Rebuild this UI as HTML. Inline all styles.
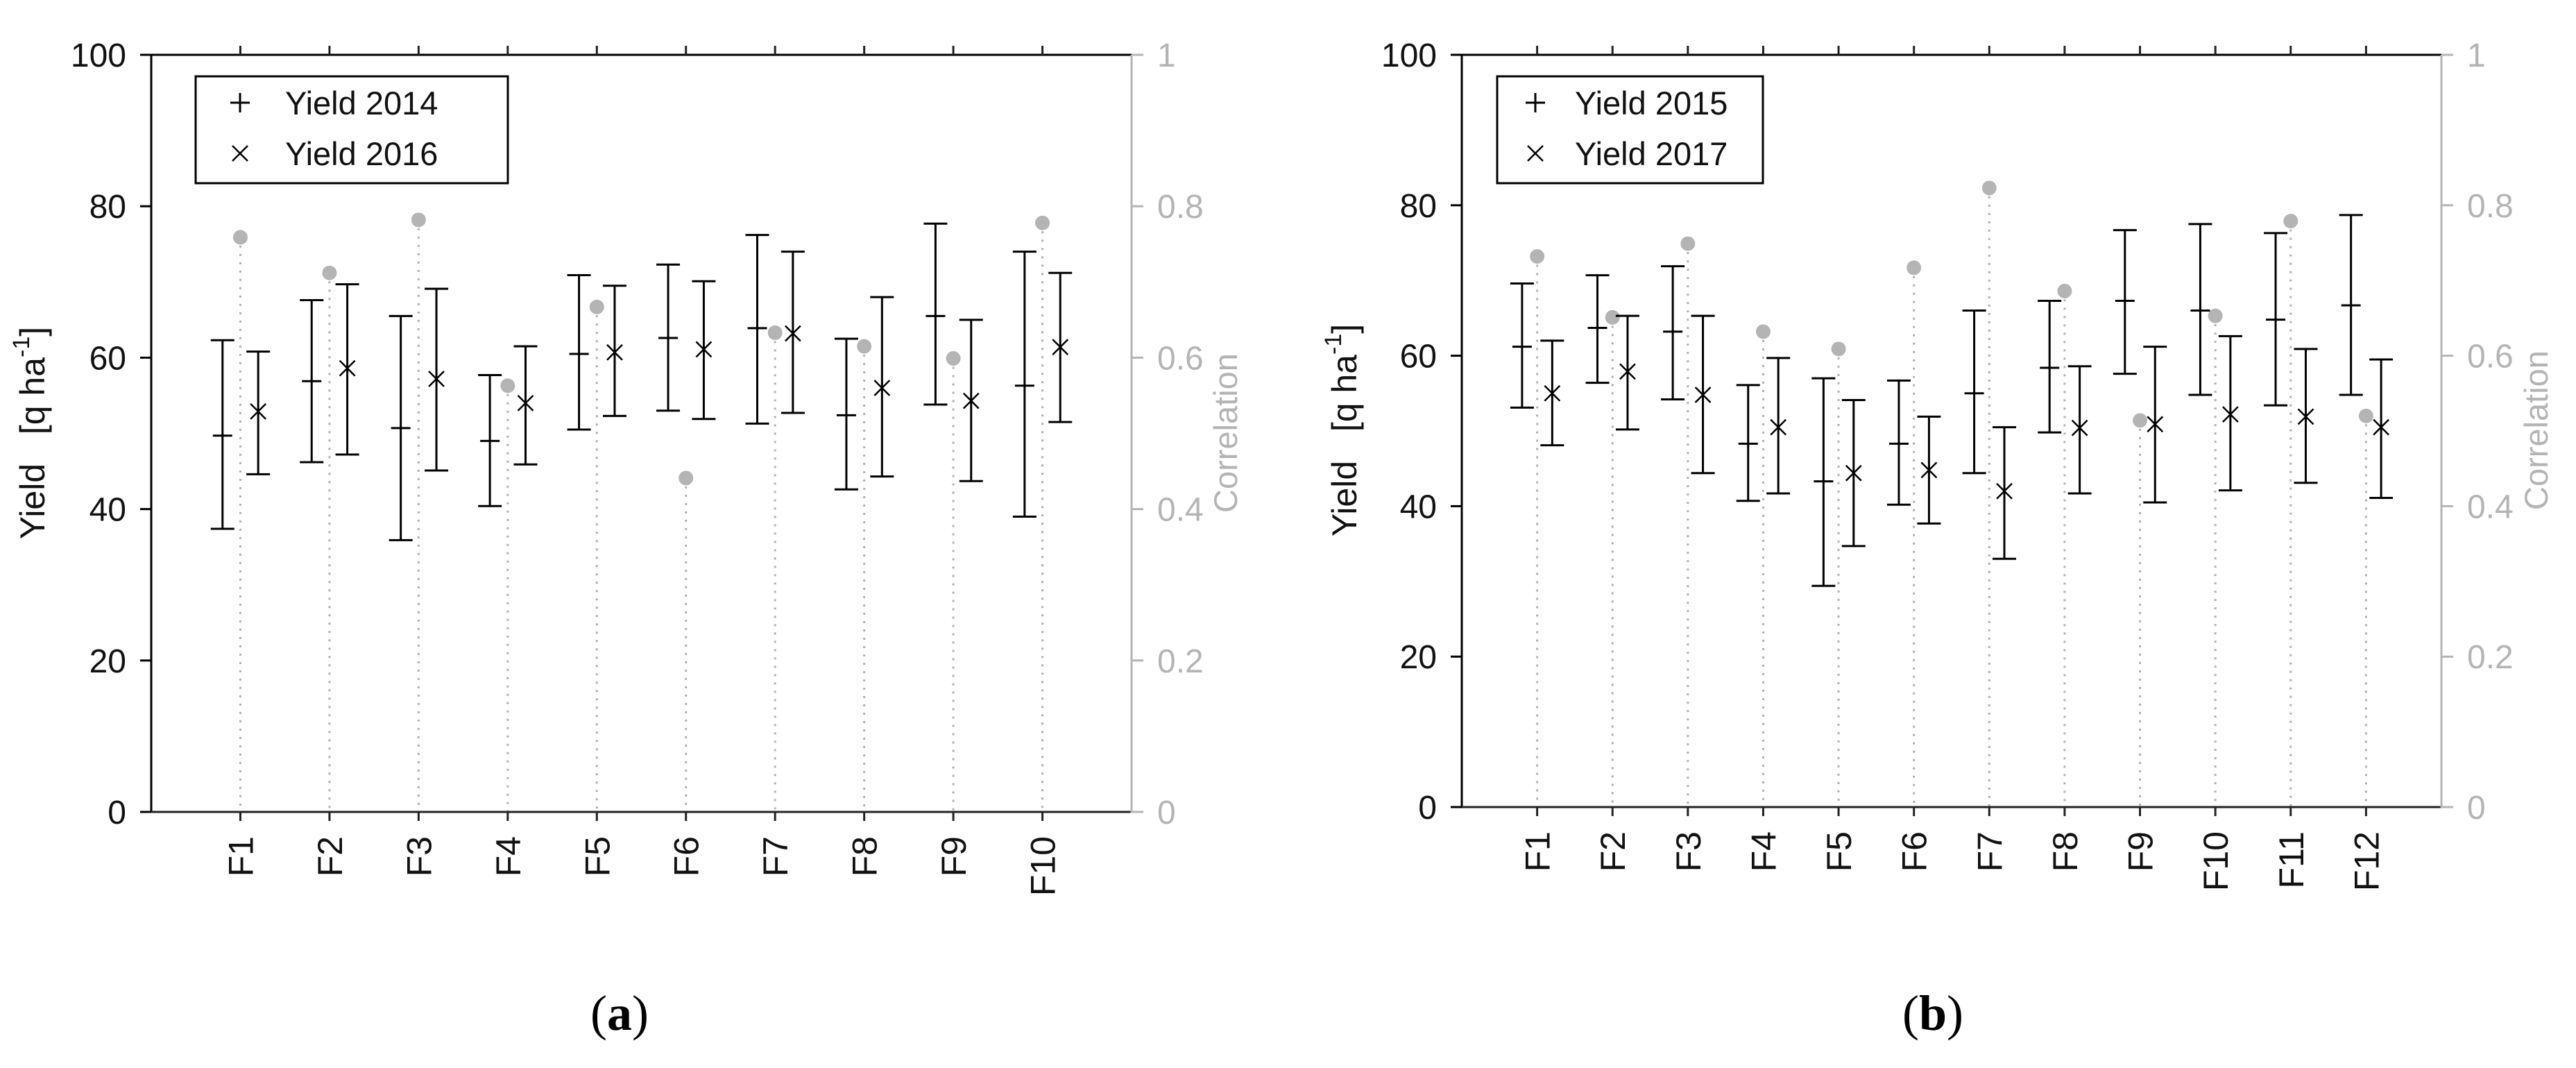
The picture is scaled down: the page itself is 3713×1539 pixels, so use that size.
<!DOCTYPE html>
<html><head><meta charset="utf-8"><style>
html,body{margin:0;padding:0;background:#fff;}
svg{display:block;font-family:"Liberation Sans",sans-serif;}
</style></head><body>
<svg id="svg" width="3713" height="1539" viewBox="0 0 3713 1539" xmlns="http://www.w3.org/2000/svg"></svg>
<script>
// Panel (a)
const catsA = ["F1","F2","F3","F4","F5","F6","F7","F8","F9","F10"];
const y2014Mid = [49.7,56.9,50.7,49.0,60.5,62.6,63.9,52.4,65.5,56.3];
const y2014Top = [62.3,67.6,65.5,57.7,70.9,72.3,76.2,62.5,77.7,74.0];
const y2014Bot = [37.4,46.2,35.9,40.4,50.5,53.0,51.3,42.6,53.8,39.0];
const y2016Mid = [52.9,58.6,57.2,54.0,60.7,61.1,63.2,56.0,54.3,61.4];
const y2016Top = [60.8,69.7,69.1,61.5,69.5,70.1,74.0,68.0,65.0,71.2];
const y2016Bot = [44.6,47.2,45.1,45.9,52.3,51.9,52.7,44.3,43.7,51.5];
const corrA = [0.759,0.712,0.782,0.563,0.667,0.441,0.633,0.615,0.599,0.778];
// Panel (b)
const catsB = ["F1","F2","F3","F4","F5","F6","F7","F8","F9","F10","F11","F12"];
const y2015Mid = [61.2,63.7,63.2,48.3,43.3,48.3,55.0,58.4,67.3,66.0,64.8,66.7];
const y2015Top = [69.6,70.7,71.9,56.1,57.0,56.7,66.0,67.3,76.7,77.5,76.3,78.7];
const y2015Bot = [53.1,56.4,54.2,40.7,29.4,40.2,44.4,49.8,57.6,54.8,53.4,54.8];
const y2017Mid = [55.0,57.9,54.8,50.5,44.4,44.8,42.0,50.4,50.9,52.2,51.9,50.5];
const y2017Top = [62.0,65.3,65.3,59.7,54.1,51.9,50.5,58.6,61.2,62.6,60.9,59.5];
const y2017Bot = [48.1,50.2,44.4,41.7,34.7,37.7,33.0,41.7,40.5,42.1,43.1,41.1];
const corrB = [0.732,0.651,0.749,0.632,0.609,0.717,0.823,0.686,0.514,0.653,0.779,0.520];
const yTicks = [0,20,40,60,80,100];
const cTicks = ["0","0.2","0.4","0.6","0.8","1"];

const NS="http://www.w3.org/2000/svg";
const svg=document.getElementById('svg');
function mk(tag,attrs,parent,text){const e=document.createElementNS(NS,tag);for(const k in attrs)e.setAttribute(k,attrs[k]);if(text!==undefined)e.textContent=text;(parent||svg).appendChild(e);return e;}

function panel(o){
  const g=mk('g',{});
  
  
  const n=o.cats.length;
  const xs=i=>o.L+(i+1)*(o.R-o.L)/(n+1);
  const ys=v=>o.B-(v/100)*(o.B-o.T);
  const yc=v=>o.B-v*(o.B-o.T);
  for(let i=0;i<n;i++){
    const l=mk('line',{x1:xs(i),x2:xs(i),y1:yc(o.corr[i]),y2:o.B,stroke:'#b0b0b0','stroke-width':3,'stroke-dasharray':'3 9'},g);
    
    
    const c=mk('circle',{cx:xs(i),cy:yc(o.corr[i]),r:10.5,fill:'#b4b4b4'},g);
    
    
  }
  const sers=[{mid:o.s1Mid,top:o.s1Top,bot:o.s1Bot,off:-0.2,m:'plus'},{mid:o.s2Mid,top:o.s2Top,bot:o.s2Bot,off:0.2,m:'x'}];
  const step=(o.R-o.L)/(n+1);
  sers.forEach((s,si)=>{
    for(let i=0;i<n;i++){
      const x=xs(i)+s.off*step;
      const eb=mk('g',{stroke:'#000','stroke-width':3,fill:'none'},g);
      
      
      mk('line',{x1:x,x2:x,y1:ys(s.top[i]),y2:ys(s.bot[i])},eb);
      mk('line',{x1:x-17,x2:x+17,y1:ys(s.top[i]),y2:ys(s.top[i])},eb);
      mk('line',{x1:x-17,x2:x+17,y1:ys(s.bot[i]),y2:ys(s.bot[i])},eb);
      const y=ys(s.mid[i]);
      if(s.m==='plus'){mk('line',{x1:x-14,x2:x+14,y1:y,y2:y},eb);}
      else{mk('line',{x1:x-11,x2:x+11,y1:y-11,y2:y+11,'stroke-width':2.5},eb);mk('line',{x1:x-11,x2:x+11,y1:y+11,y2:y-11,'stroke-width':2.5},eb);}
    }
  });
  const ax=mk('g',{},g);
  
  
  mk('line',{x1:o.L,x2:o.L,y1:o.T-1.5,y2:o.B+1.5,stroke:'#000','stroke-width':3},ax);
  mk('line',{x1:o.L,x2:o.R,y1:o.T,y2:o.T,stroke:'#000','stroke-width':3},ax);
  mk('line',{x1:o.L,x2:o.R,y1:o.B,y2:o.B,stroke:'#222','stroke-width':3},ax);
  mk('line',{x1:o.R,x2:o.R,y1:o.T,y2:o.B+1.5,stroke:'#b4b4b4','stroke-width':3},ax);
  yTicks.forEach((v,k)=>{
    const y=ys(v);
    mk('line',{x1:o.L-16,x2:o.L,y1:y,y2:y,stroke:'#000','stroke-width':3},ax);
    const t=mk('text',{x:o.L-36,y:y+17,'font-size':48,'text-anchor':'end',fill:'#111'},ax,String(v));
    
    
    mk('line',{x1:o.R,x2:o.R+17,y1:y,y2:y,stroke:'#b4b4b4','stroke-width':3},ax);
    const t2=mk('text',{x:o.R+37,y:y+17,'font-size':48,fill:'#b4b4b4'},ax,cTicks[k]);
    
    
  });
  for(let i=0;i<n;i++){
    const x=xs(i);
    mk('line',{x1:x,x2:x,y1:o.T-13,y2:o.T,stroke:'#222','stroke-width':3},ax);
    mk('line',{x1:x,x2:x,y1:o.B,y2:o.B+13,stroke:'#222','stroke-width':3},ax);
    const t=mk('text',{x:0,y:0,'font-size':50,'text-anchor':'end',fill:'#111',transform:`translate(${x+18},${o.B+35}) rotate(-90)`},ax,o.cats[i]);
    
    
  }
  const yt=mk('text',{x:0,y:0,'font-size':50,'text-anchor':'middle',fill:'#111',transform:`translate(${o.ylx+4},${o.ylY}) rotate(-90)`},g);
  
  
  mk('tspan',{},yt,'Yield\u00a0\u00a0\u00a0[q ha');
  mk('tspan',{'font-size':34,dy:-22},yt,'-1');
  mk('tspan',{dy:22},yt,']');
  const ct=mk('text',{x:0,y:0,'font-size':47,'text-anchor':'middle',fill:'#b4b4b4',transform:`translate(${o.clx},${o.ylY}) rotate(-90)`},g,'Correlation');
  
  
  const lg=mk('g',{},g);
  
  
  mk('rect',{x:o.lgX,y:110,width:o.lgW,height:154,fill:'#fff',stroke:'#000','stroke-width':3},lg);
  const mx=o.lgX+o.lgM;
  const e1=mk('g',{},lg);
  
  
  mk('line',{x1:mx-14,x2:mx+14,y1:148,y2:148,stroke:'#000','stroke-width':3},e1);
  mk('line',{x1:mx,x2:mx,y1:134,y2:162,stroke:'#000','stroke-width':3},e1);
  mk('text',{x:o.lgX+o.lgT,y:165,'font-size':47,fill:'#111'},e1,o.l1);
  const e2=mk('g',{},lg);
  
  
  mk('line',{x1:mx-11,x2:mx+11,y1:210,y2:232,stroke:'#000','stroke-width':2.5},e2);
  mk('line',{x1:mx-11,x2:mx+11,y1:232,y2:210,stroke:'#000','stroke-width':2.5},e2);
  mk('text',{x:o.lgX+o.lgT,y:238,'font-size':47,fill:'#111'},e2,o.l2);
  const cap=mk('text',{x:o.capX,y:1484,'font-size':72,'text-anchor':'middle','font-family':'"Liberation Serif",serif',fill:'#000'},g);
  
  
  mk('tspan',{},cap,'(');
  mk('tspan',{'font-weight':'bold'},cap,o.cap);
  mk('tspan',{},cap,')');
}
panel({name:'panel-a',cats:catsA,L:218,R:1631,T:79,B:1170,s1Mid:y2014Mid,s1Top:y2014Top,s1Bot:y2014Bot,s2Mid:y2016Mid,s2Top:y2016Top,s2Bot:y2016Bot,corr:corrA,ylx:60,ylY:624,clx:1783,lgX:282,lgW:450,lgM:64,lgT:129,l1:'Yield 2014',l2:'Yield 2016',capX:893,cap:'a'});
panel({name:'panel-b',cats:catsB,L:2107,R:3519,T:79,B:1163,s1Mid:y2015Mid,s1Top:y2015Top,s1Bot:y2015Bot,s2Mid:y2017Mid,s2Top:y2017Top,s2Bot:y2017Bot,corr:corrB,ylx:1951,ylY:620,clx:3672,lgX:2158,lgW:383,lgM:55,lgT:112,l1:'Yield 2015',l2:'Yield 2017',capX:2786,cap:'b'});
</script>
</body></html>
